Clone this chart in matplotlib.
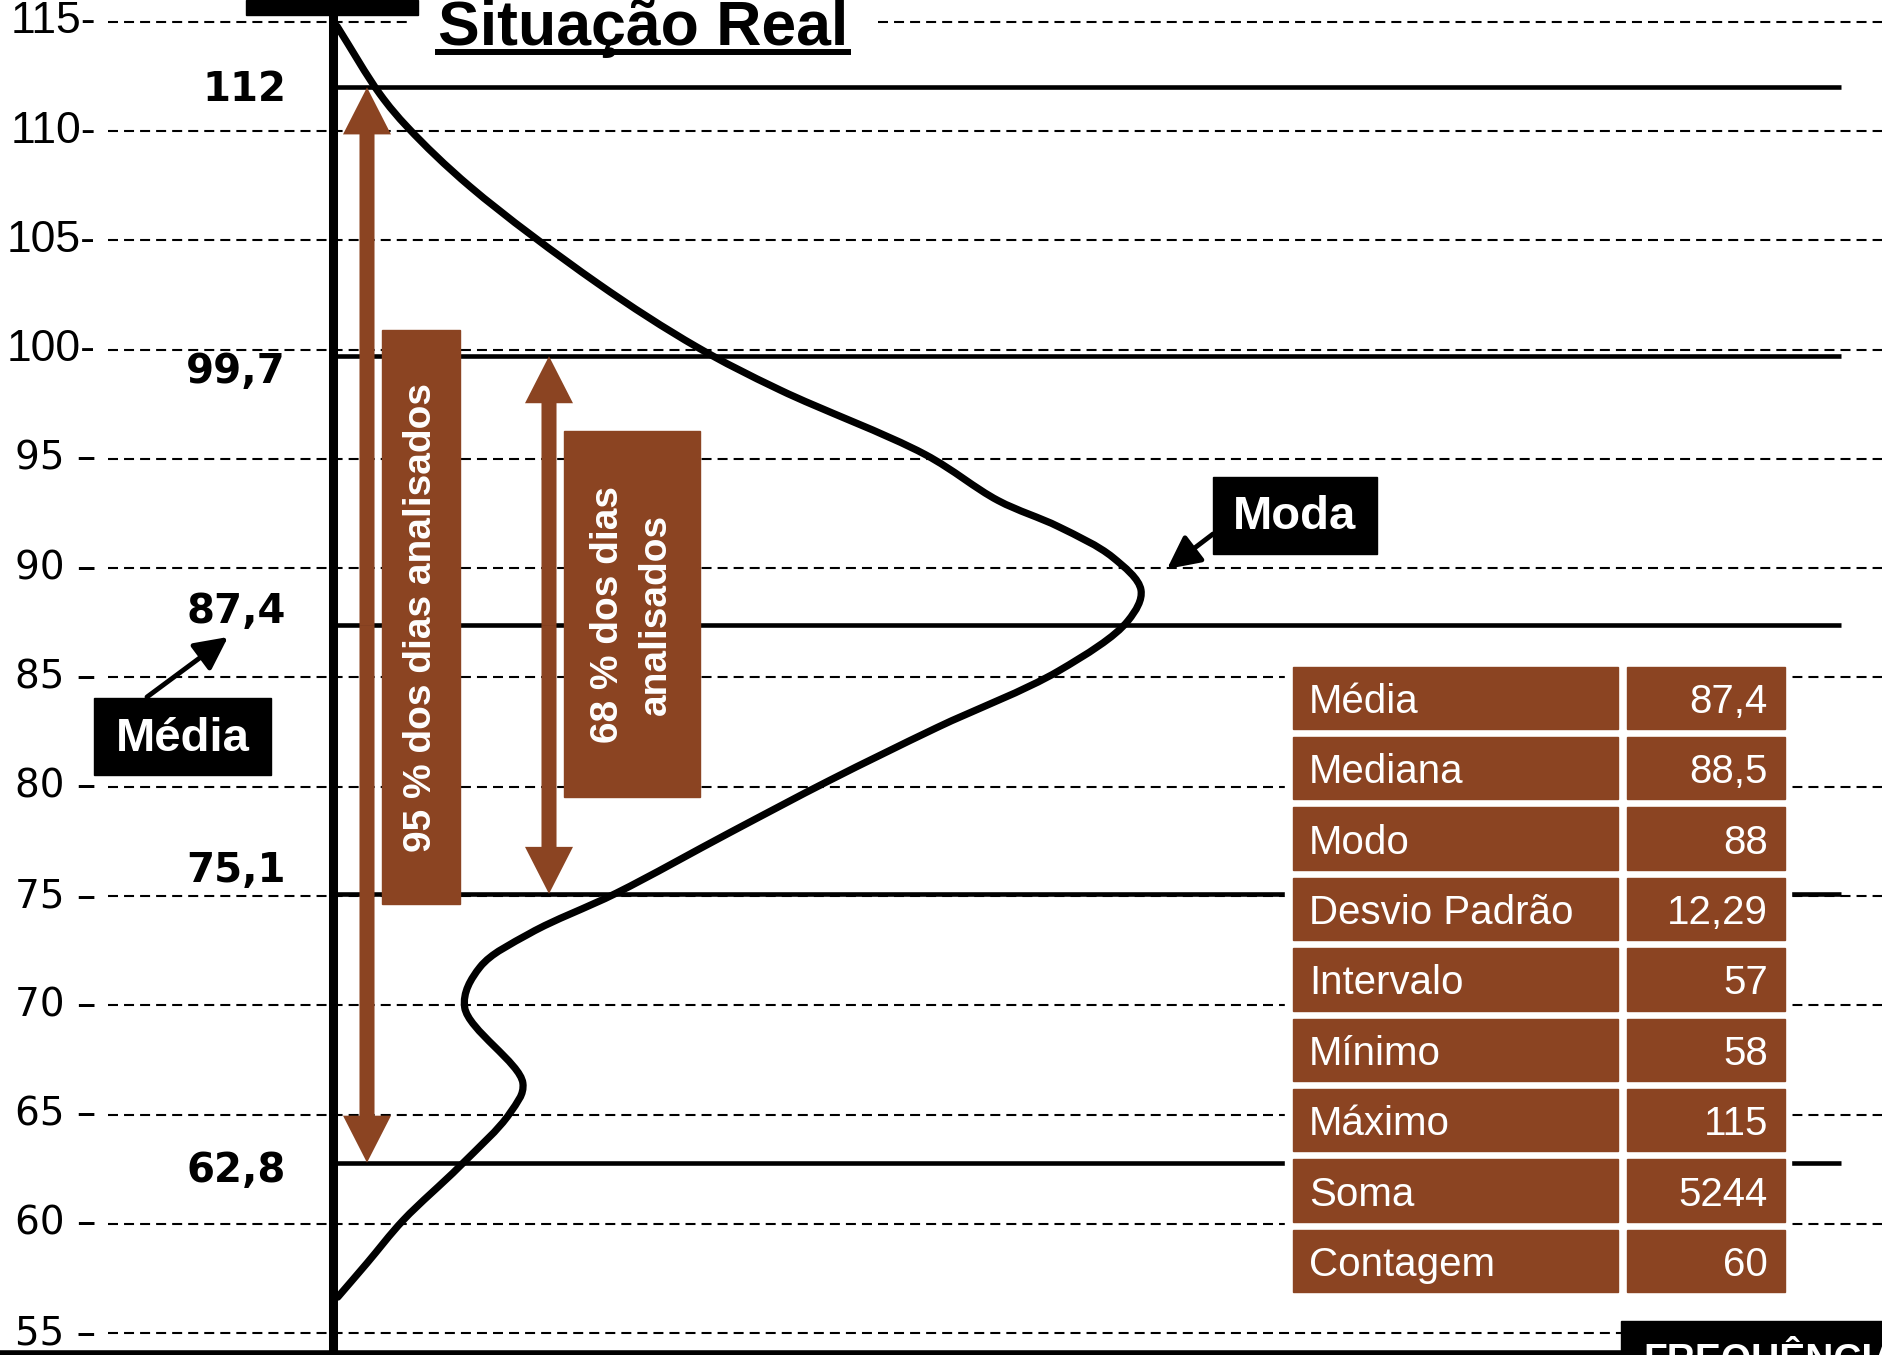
import matplotlib
matplotlib.use('Agg')
import matplotlib.pyplot as plt
import numpy as np
from matplotlib.patches import Rectangle, PathPatch
from matplotlib.path import Path
from matplotlib.lines import Line2D
from matplotlib.transforms import blended_transform_factory

# curva de frequencia (valor, frequencia relativa)
curve_value = [114.8, 111.7, 110.15, 107.45, 103.05, 100.13, 98.16, 95.2, 93.1,
               91.9, 90.5, 89.0, 87.6, 85.3, 82.7, 80.3, 77.9,
               75.14, 73.3, 71.75, 69.9, 66.44,
               65.07, 62.64, 60.17, 58.2, 56.65]
curve_freq = [0.05, 0.58, 0.93, 1.70, 3.27, 4.50, 5.53, 7.33, 8.23,
              8.98, 9.65, 10.0, 9.84, 8.98, 7.47, 6.15, 4.91,
              3.51, 2.44, 1.82, 1.63, 2.35,
              2.19, 1.57, 0.87, 0.42, 0.06]

grid_values = [115, 110, 105, 100, 95, 90, 85, 80, 75, 70, 65, 60, 55]
grid_labels = ["115-", "110-", "105-", "100-", "95 –", "90 –", "85 –", "80 –",
               "75 –", "70 –", "65 –", "60 –", "55 –"]

limit_values = [112, 99.7, 87.4, 75.1, 62.8]
limit_labels = ["112", "99,7", "87,4", "75,1", "62,8"]
label_shift_px = [3, 16, -13, -23, 8]   # deslocamento vertical dos rotulos

stat_names = ["Média", "Mediana", "Modo", "Desvio Padrão", "Intervalo",
              "Mínimo", "Máximo", "Soma", "Contagem"]
stat_values = ["87,4", "88,5", "88", "12,29", "57", "58", "115", "5244", "60"]

brown = '#8B4422'
W, H = 1883, 1355
X0, X1 = -4.121, 19.183
Y0, Y1 = 54.0, 116.0


def fx(px):
    return px / W


def fy(py):
    return 1 - py / H


def dx(px):
    return X0 + px / W * (X1 - X0)


fig = plt.figure(figsize=(18.83, 13.55), dpi=100)
ax = fig.add_axes([0, 0, 1, 1])
ax.set_xlim(X0, X1)
ax.set_ylim(Y0, Y1)
ax.axis('off')
ta = ax.transAxes
ty = blended_transform_factory(ax.transAxes, ax.transData)
px_per_unit = H / (Y1 - Y0)
px_per_freq = W / (X1 - X0)

# grade tracejada e rotulos do eixo
ax.hlines(grid_values, dx(108), X1, colors='black', lw=1.5,
          linestyles=(0, (4.8, 2.9)), zorder=1)
for v, lab in zip(grid_values, grid_labels):
    if lab.endswith('-'):
        ax.text(fx(96), v, lab, transform=ty, ha='right', va='center',
                fontsize=32, family='Liberation Sans')
    else:
        ax.text(fx(96), v, lab, transform=ty, ha='right', va='center',
                fontsize=28, family='DejaVu Sans')

# linhas de media e desvios
ax.hlines(limit_values, 0, dx(1841), colors='black', lw=3.3, zorder=3)
for v, lab, s in zip(limit_values, limit_labels, label_shift_px):
    ax.text(fx(286), v - s / px_per_unit, lab, transform=ty, ha='right',
            va='center', fontsize=29, fontweight='bold', family='DejaVu Sans')

# eixos
ax.axvline(0, color='black', lw=6.5, zorder=9)
ax.axhline(54.11, color='black', lw=4, zorder=9)

# curva: spline catmull-rom centripeta passando pelos pontos lidos
pts = np.column_stack([curve_freq, curve_value])
scale = np.array([px_per_freq, px_per_unit])
ext = np.vstack([2 * pts[0] - pts[1], pts, 2 * pts[-1] - pts[-2]])
verts = [pts[0]]
codes = [Path.MOVETO]
for i in range(1, len(ext) - 2):
    p0, p1, p2, p3 = ext[i - 1], ext[i], ext[i + 1], ext[i + 2]
    d1 = np.linalg.norm((p1 - p0) * scale) ** 0.5
    d2 = np.linalg.norm((p2 - p1) * scale) ** 0.5
    d3 = np.linalg.norm((p3 - p2) * scale) ** 0.5
    c1 = (d1 ** 2 * p2 - d2 ** 2 * p0 + (2 * d1 ** 2 + 3 * d1 * d2 + d2 ** 2) * p1) / (3 * d1 * (d1 + d2))
    c2 = (d3 ** 2 * p1 - d2 ** 2 * p3 + (2 * d3 ** 2 + 3 * d3 * d2 + d2 ** 2) * p2) / (3 * d3 * (d3 + d2))
    verts += [c1, c2, p2]
    codes += [Path.CURVE4] * 3
ax.add_patch(PathPatch(Path(verts, codes), fill=False, ec='black', lw=5.2,
                       capstyle='round', joinstyle='round', zorder=8))


# setas marrons
def double_arrow(x, y0, y1):
    mid = (y0 + y1) / 2
    for end in (y0, y1):
        ax.arrow(x, mid, 0, end - mid, width=0.186, head_width=0.594,
                 head_length=2.15, length_includes_head=True,
                 color=brown, lw=0, zorder=4)


double_arrow(dx(367), 62.8, 112)
double_arrow(dx(549), 75.1, 99.7)

ax.add_patch(Rectangle((fx(382), fy(904)), fx(460) - fx(382), (904 - 330) / H,
                       transform=ta, color=brown, zorder=5))
ax.text(fx(421), fy(617), "95 % dos dias analisados", rotation=90,
        transform=ta, ha='center', va='center', color='white', fontsize=28,
        fontweight='bold', family='Liberation Sans', zorder=6)
ax.add_patch(Rectangle((fx(564), fy(797)), fx(700) - fx(564), (797 - 431) / H,
                       transform=ta, color=brown, zorder=5))
ax.text(fx(632), fy(614), "68 % dos dias\nanalisados", rotation=90,
        transform=ta, ha='center', va='center', multialignment='center',
        linespacing=1.45, color='white', fontsize=28, fontweight='bold',
        family='Liberation Sans', zorder=6)

# caixas Média e Moda
arrow_kw = dict(arrowstyle='-|>,head_length=0.8,head_width=0.4', lw=3.5,
                color='black', mutation_scale=25, shrinkA=0, shrinkB=0)
ax.add_patch(Rectangle((fx(94), fy(775)), fx(271) - fx(94), 77 / H,
                       transform=ta, color='black', zorder=5))
ax.text(fx(182.5), fy(739), "Média", transform=ta, ha='center', va='center',
        color='white', fontsize=34, fontweight='bold',
        family='Liberation Sans', zorder=6)
ax.annotate('', xy=(fx(228), fy(637)), xytext=(fx(147), fy(697)),
            xycoords='axes fraction', textcoords='axes fraction',
            arrowprops=arrow_kw, zorder=6)

ax.add_patch(Rectangle((fx(1213), fy(554)), fx(1377) - fx(1213), 77 / H,
                       transform=ta, color='black', zorder=5))
ax.text(fx(1295), fy(517), "Moda", transform=ta, ha='center', va='center',
        color='white', fontsize=34, fontweight='bold',
        family='Liberation Sans', zorder=6)
ax.annotate('', xy=(fx(1167), fy(569)), xytext=(fx(1213), fy(534)),
            xycoords='axes fraction', textcoords='axes fraction',
            arrowprops=arrow_kw, zorder=6)

# tabela de estatisticas
ax.add_patch(Rectangle((fx(1285), fy(1300)), fx(1791) - fx(1285), (1300 - 658) / H,
                       transform=ta, color='white', zorder=5))
for i, (name, val) in enumerate(zip(stat_names, stat_values)):
    top = 666.5 + i * 70.4
    bot = top + 62.5
    ax.add_patch(Rectangle((fx(1293), fy(bot)), fx(1618) - fx(1293), 62.5 / H,
                           transform=ta, color=brown, zorder=6))
    ax.add_patch(Rectangle((fx(1627), fy(bot)), fx(1785) - fx(1627), 62.5 / H,
                           transform=ta, color=brown, zorder=6))
    ax.text(fx(1309), fy((top + bot) / 2 + 4), name, transform=ta, ha='left',
            va='center', color='white', fontsize=29,
            family='Liberation Sans', zorder=7)
    ax.text(fx(1768), fy((top + bot) / 2 + 4), val, transform=ta, ha='right',
            va='center', color='white', fontsize=29,
            family='Liberation Sans', zorder=7)

# titulo e caixas cortadas
title = ax.text(fx(438), fy(45), "Situação Real", transform=ta, ha='left',
                va='baseline', fontsize=45, fontweight='bold',
                family='Liberation Sans', zorder=6,
                bbox=dict(boxstyle='square,pad=0.42', fc='white', ec='none'))
ax.add_patch(Rectangle((fx(246), fy(15)), fx(418) - fx(246), 15 / H,
                       transform=ta, color='black', zorder=10))
ax.add_patch(Rectangle((fx(1621), 0), 1 - fx(1621), 34 / H,
                       transform=ta, color='black', zorder=10))
ax.text(fx(1643), fy(1371), "FREQUÊNCIA", transform=ta, ha='left',
        va='baseline', color='white', fontsize=28, fontweight='bold',
        family='Liberation Sans', zorder=11, clip_on=False)

fig.canvas.draw()
bb = title.get_window_extent()
fig.add_artist(Line2D([bb.x0 / W, bb.x1 / W], [fy(52), fy(52)],
                      transform=fig.transFigure, color='black', lw=4.3, zorder=7))

fig.savefig('out.png', dpi=100)
